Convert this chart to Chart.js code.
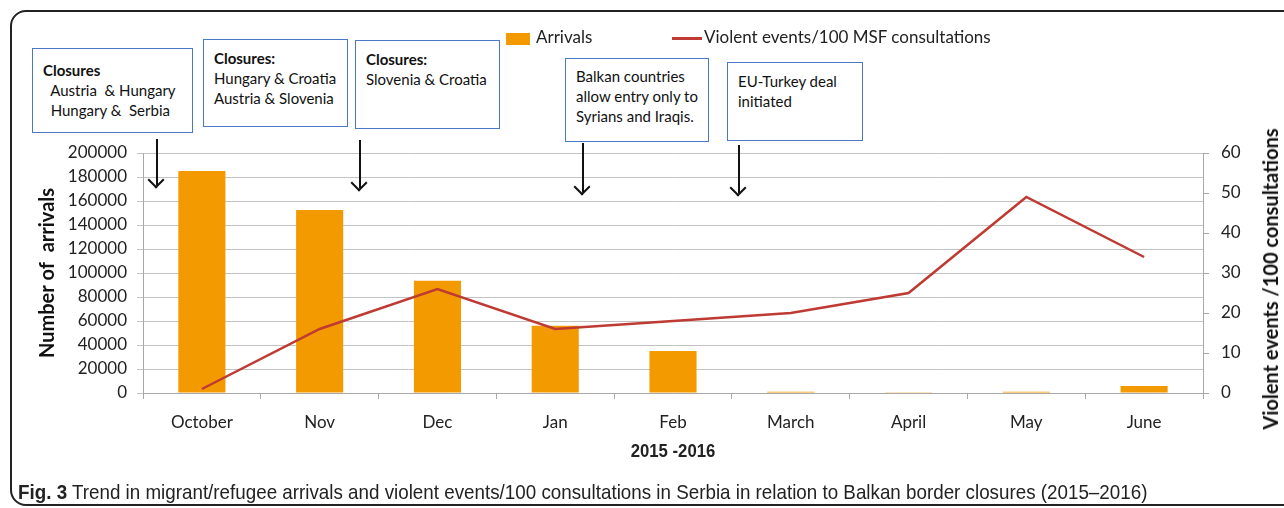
<!DOCTYPE html>
<html>
<head>
<meta charset="utf-8">
<script src="https://cdn.jsdelivr.net/npm/chart.js@4/dist/chart.umd.min.js"></script>
<style>
  html, body { margin:0; padding:0; background:#fff; }
  body { width:1284px; height:508px; position:relative; overflow:hidden; font-family:Lato, "Open Sans", sans-serif; color:#222; }
  #frame { position:absolute; left:10px; top:10px; width:1300px; height:492px; border:2px solid #222; border-radius:16px; }
  #chartWrap { position:absolute; left:0; top:0; width:1284px; height:508px; }
  .note { position:absolute; border:1.5px solid #4a78c2; background:#fff; font-size:15px; line-height:20px; padding:8px 10px; box-sizing:border-box; color:#111; }
  .note b { font-weight:700; }
  .arrow { position:absolute; width:2px; background:#111; }
  .arrow::after { content:""; position:absolute; left:-6px; bottom:-1px; width:10px; height:10px; border-right:2px solid #111; border-bottom:2px solid #111; transform:rotate(45deg); transform-origin:center; }
  .legend { position:absolute; top:26px; font-size:17px; color:#222; }
  .sw { display:inline-block; vertical-align:middle; }
  #rTitle { position:absolute; left:1270px; top:279px; width:0; height:0; }
  #rTitle span { position:absolute; left:0; top:0; transform:translate(-50%,-50%) rotate(-90deg); white-space:nowrap; font-weight:700; font-size:20px; color:#111; }
  #xTitle { position:absolute; top:441px; left:0; width:1346px; text-align:center; font-family:"Liberation Sans", sans-serif; font-weight:700; font-size:18px; transform:scaleX(0.93); transform-origin:673px 0; }
  #caption { position:absolute; left:18px; top:480px; font-family:"Liberation Sans", sans-serif; font-size:21px; color:#222; white-space:nowrap; transform:scaleX(0.895); transform-origin:0 0; }
</style>
</head>
<body>
<div id="frame"></div>
<div id="chartWrap"><canvas id="arrChart" width="1284" height="508"></canvas></div>

<!-- legend -->
<div class="legend" style="left:506px;"><span class="sw" style="width:24px;height:12px;background:#F39A00;margin-right:6px;"></span>Arrivals</div>
<div class="legend" style="left:672px;"><span class="sw" style="width:30px;height:3px;background:#BE3A33;margin-right:2px;"></span>Violent events/100 MSF consultations</div>

<!-- annotation boxes -->
<div class="note" style="left:32px;top:48px;width:161px;height:85px;padding-top:11px;"><b>Closures</b><br>&nbsp; Austria &nbsp;&amp; Hungary<br>&nbsp; Hungary &amp; &nbsp;Serbia</div>
<div class="note" style="left:203px;top:39px;width:145px;height:88px;"><b>Closures:</b><br>Hungary &amp; Croatia<br>Austria &amp; Slovenia</div>
<div class="note" style="left:355px;top:40px;width:145px;height:89px;"><b>Closures:</b><br>Slovenia &amp; Croatia</div>
<div class="note" style="left:565px;top:58px;width:144px;height:84px;padding-top:7px;">Balkan countries<br>allow entry only to<br>Syrians and Iraqis.</div>
<div class="note" style="left:727px;top:62px;width:136px;height:79px;">EU-Turkey deal<br>initiated</div>

<!-- arrows -->
<div class="arrow" style="left:156px;top:139px;height:46px;"></div>
<div class="arrow" style="left:359px;top:140px;height:48px;"></div>
<div class="arrow" style="left:582px;top:143px;height:49px;"></div>
<div class="arrow" style="left:738px;top:145px;height:48px;"></div>

<div id="rTitle"><span>Violent events /100 consultations</span></div>
<div id="xTitle">2015 -2016</div>
<div id="caption"><b>Fig. 3</b> Trend in migrant/refugee arrivals and violent events/100 consultations in Serbia in relation to Balkan border closures (2015–2016)</div>

<script>
const months = ["October", "Nov", "Dec", "Jan", "Feb", "March", "April", "May", "June"];
const arrivals = [185000, 152500, 93500, 56000, 35000, 1000, 600, 1000, 5800];
const violentPer100 = [1, 16, 26, 16, 18, 20, 25, 49, 34];

const tickFont = { family: "Lato", size: 17 };
const titleFont = { family: "Lato", size: 20, weight: "bold" };
const gridGray = "#c3c3c3";
const axisGray = "#a8a8a8";

let arrChart;

function buildChart(){
  const ctx = document.getElementById("arrChart");
  arrChart = new Chart(ctx, {
    data: {
      labels: months,
      datasets: [
        { type: "line", label: "Violent events/100 MSF consultations", data: violentPer100, yAxisID: "y1",
          borderColor: "#BE3A33", borderWidth: 2.5, pointRadius: 0, tension: 0, order: 0 },
        { type: "bar", label: "Arrivals", data: arrivals, yAxisID: "y",
          backgroundColor: "#F39A00", barPercentage: 0.4, categoryPercentage: 1, order: 1 }
      ]
    },
    options: {
      responsive: false,
      animation: false,
      layout: { padding: { left: 36, right: 17, top: 153, bottom: 70 } },
      plugins: { legend: { display: false }, tooltip: { enabled: false } },
      scales: {
        x: {
          grid: { display: true, drawOnChartArea: false, drawTicks: true, tickLength: 6, color: axisGray, offset: true },
          border: { color: axisGray },
          ticks: { font: tickFont, color: "#222", padding: 13 },
          afterFit: s => { s.height = 45; }
        },
        y: {
          position: "left", min: 0, max: 200000,
          grid: { color: gridGray, tickLength: 6 },
          border: { color: axisGray },
          ticks: { stepSize: 20000, font: tickFont, color: "#222", padding: 10, callback: v => String(v) },
          title: { display: true, text: "Number of  arrivals", font: titleFont, color: "#111", padding: { top: 0, bottom: 0 } },
          afterFit: s => { s.width = 107; }
        },
        y1: {
          position: "right", min: 0, max: 60,
          grid: { drawOnChartArea: false, color: axisGray, tickLength: 6 },
          border: { color: axisGray },
          ticks: { stepSize: 10, font: tickFont, color: "#222", padding: 12 },
          afterFit: s => { s.width = 64; }
        }
      }
    }
  });
}

buildChart();
</script>
</body>
</html>
